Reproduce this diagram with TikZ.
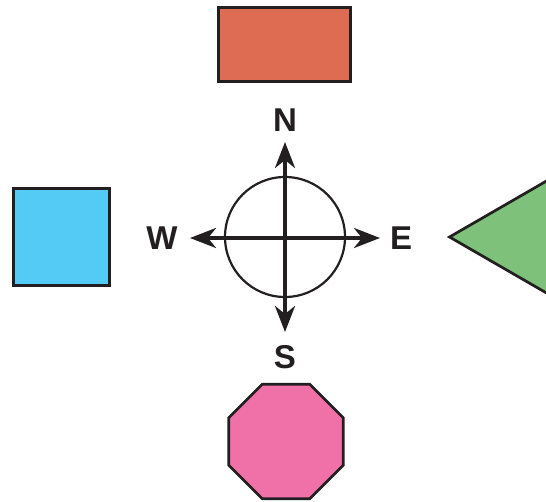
\documentclass[tikz,border=0pt]{standalone}
\usepackage{fontspec}
\setmainfont{Liberation Sans}
\usetikzlibrary{positioning,arrows.meta,shapes.geometric}

\definecolor{brick}{HTML}{DE6C53}
\definecolor{sky}{HTML}{54CBF5}
\definecolor{leaf}{HTML}{7DC17A}
\definecolor{rose}{HTML}{F071A8}
\definecolor{ink}{HTML}{231F20}

\begin{document}
\begin{tikzpicture}[
    x=1pt, y=-1pt,
    shp/.style={draw=ink, line width=2.7pt, inner sep=0pt, outer sep=0pt},
    dir/.style={font=\fontsize{33}{33}\selectfont\bfseries, text=ink, inner sep=0pt},
    ar/.style={{Stealth[length=26pt, width=20pt, inset=8pt]}-{Stealth[length=26pt, width=20pt, inset=8pt]},
               line width=3.8pt, draw=ink},
]
\clip (0,0) rectangle (546,502);
% --- compass ---
\node[draw=ink, line width=2.2pt, circle, minimum size=120pt, inner sep=0pt] (rose) at (285,237) {};
\coordinate (tipN) at (285,142); \coordinate (tipS) at (285,332);
\coordinate (tipW) at (190,238); \coordinate (tipE) at (380,238);
\draw[ar] (tipS) -- (tipN);
\draw[ar] (tipW) -- (tipE);
\node[dir] (lN) at (285,120) {N};
\node[dir] (lS) at (285,357) {S};
\node[dir] (lW) at (162,238) {W};
\node[dir] (lE) at (401,238) {E};
% --- shapes round it ---
\node[shp, fill=brick, minimum width=132pt, minimum height=74pt] (north) at (284.5,44.5) {};
\node[shp, fill=sky, minimum width=96pt, minimum height=97pt] (west) at (61.5,237) {};
\node[shp, fill=rose, regular polygon, regular polygon sides=8, minimum size=124pt] (south) at (286,441.5) {};
\node[shp, fill=leaf, regular polygon, regular polygon sides=3, shape border rotate=90,
      minimum size=260pt, anchor=corner 1] (east) at (449.5,237) {};
\end{tikzpicture}
\end{document}
